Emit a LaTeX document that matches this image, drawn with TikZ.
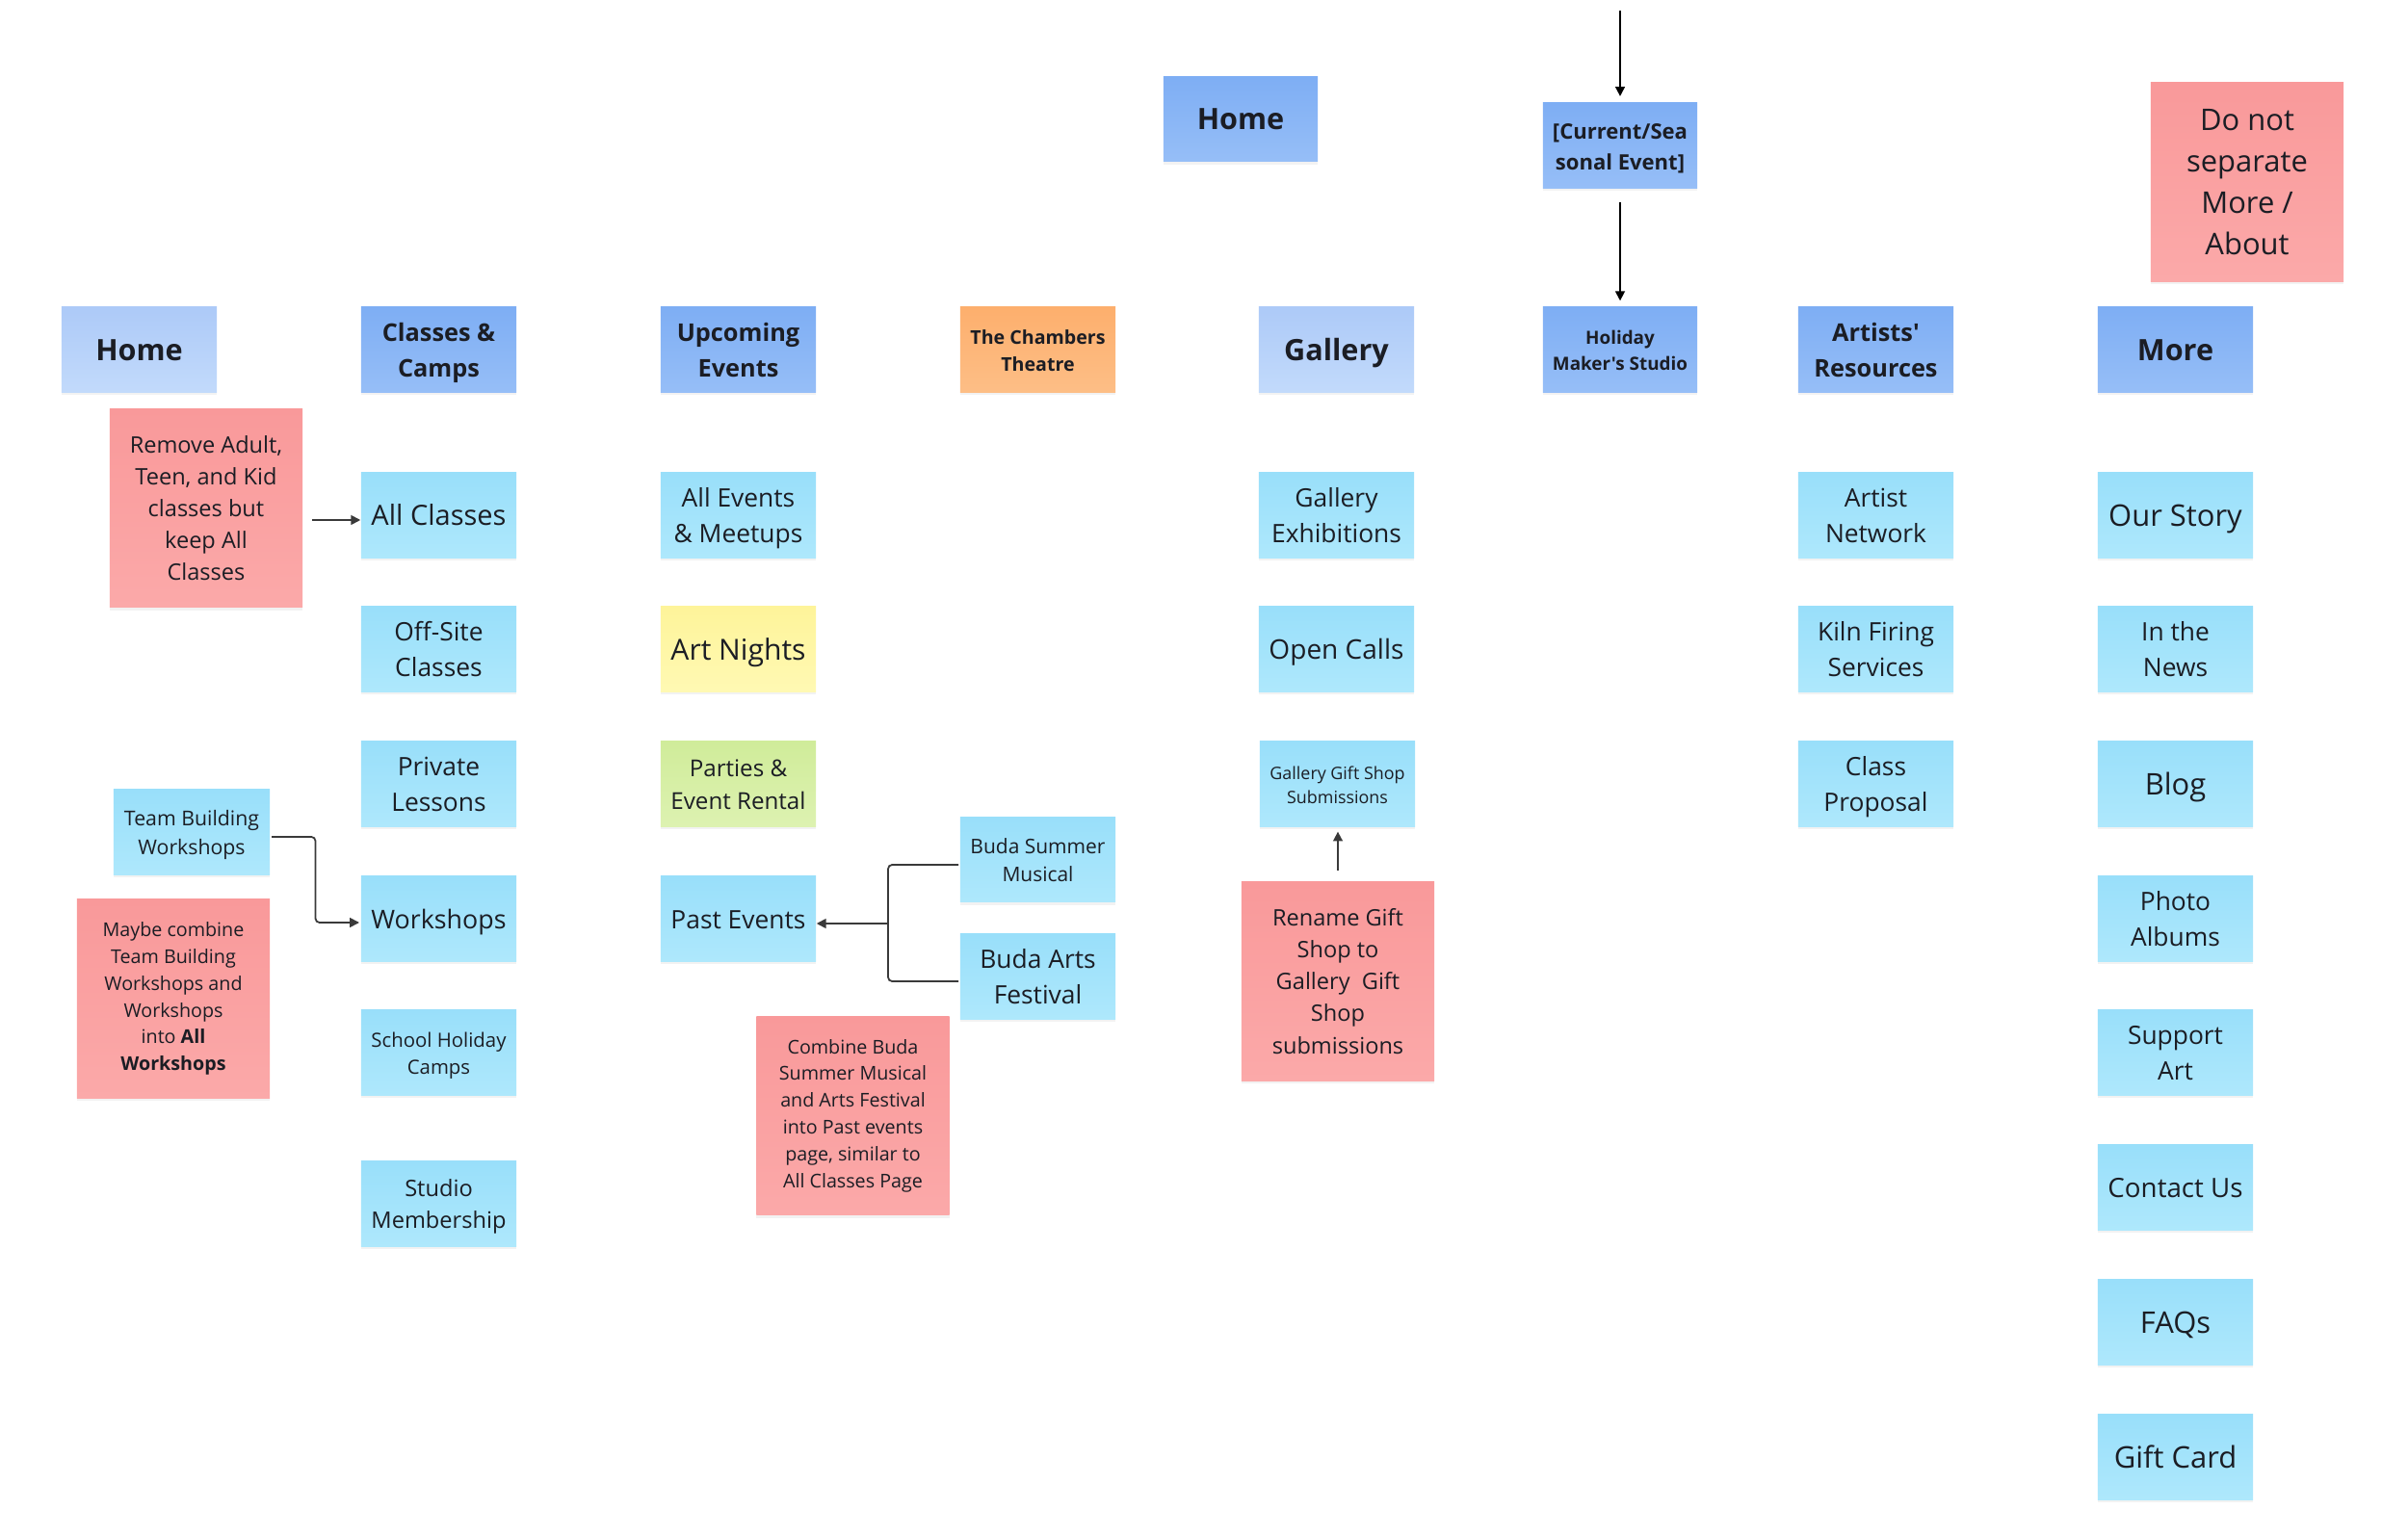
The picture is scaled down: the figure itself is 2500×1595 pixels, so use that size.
\documentclass[tikz,border=0pt]{standalone}
\usepackage{fontspec}
\setmainfont{Open Sans}[Ligatures=TeXOff]
\usepackage{graphicx}
\usetikzlibrary{shadows,arrows.meta,calc}

\definecolor{txt}{HTML}{1B1D24}
\definecolor{cyT}{HTML}{99DFFA}\definecolor{cyB}{HTML}{AEE8FC}
\definecolor{mbT}{HTML}{7EAEF4}\definecolor{mbB}{HTML}{96BEF7}
\definecolor{lbT}{HTML}{ADCAF8}\definecolor{lbB}{HTML}{C2DAFB}
\definecolor{orT}{HTML}{FDAF6D}\definecolor{orB}{HTML}{FDBE86}
\definecolor{rdT}{HTML}{F9999A}\definecolor{rdB}{HTML}{FBA9A9}
\definecolor{ylT}{HTML}{FEF49A}\definecolor{ylB}{HTML}{FFF9B3}
\definecolor{grT}{HTML}{D0EC9A}\definecolor{grB}{HTML}{DDF2B1}
\definecolor{lnc}{HTML}{3A3A3A}

\newsavebox\fitbox
\newsavebox\fitboxb
\newcommand\fit[1]{\sbox\fitbox{\begin{tabular}{@{}c@{}}#1\end{tabular}}%
  \ifdim\wd\fitbox>1.4cm\relax\sbox\fitboxb{\resizebox{1.4cm}{!}{\usebox\fitbox}}\else\sbox\fitboxb{\usebox\fitbox}\fi
  \raisebox{0pt}[\dimexpr\ht\fitboxb+1.6pt\relax][\dp\fitboxb]{\usebox\fitboxb}}
\newcommand\bigbold{\fontsize{8.7}{12}\selectfont\bfseries}
\newcommand\twobold{\fontsize{7.2}{10.4}\selectfont\bfseries}
\newcommand\bigreg{\fontsize{8.8}{12}\selectfont}
\newcommand\tworeg{\fontsize{7.5}{10.4}\selectfont}

\tikzset{
  card/.style={rectangle, inner sep=0pt, minimum width=1.61cm, minimum height=0.88cm,
    text=txt, align=center,
    drop shadow={shadow xshift=0pt, shadow yshift=-0.9pt, opacity=0.10}},
  cyanb/.style={card, top color=cyT, bottom color=cyB, font=\tworeg},
  medb/.style={card, top color=mbT, bottom color=mbB, font=\twobold},
  lightb/.style={card, top color=lbT, bottom color=lbB, font=\bigbold},
  orangeb/.style={card, top color=orT, bottom color=orB, font=\twobold},
  yellowb/.style={card, top color=ylT, bottom color=ylB, font=\bigreg},
  greenb/.style={card, top color=grT, bottom color=grB, font=\tworeg},
  note/.style={card, minimum width=2cm, minimum height=2.06cm, top color=rdT, bottom color=rdB},
  conn/.style={draw=lnc, line width=0.5pt, rounded corners=1.2pt},
  arr/.style={conn, -{Triangle[length=2.8pt,width=2.8pt]}},
  topar/.style={draw=black, line width=0.45pt, -{Triangle[length=2.8pt,width=2.8pt]}},
}

\begin{document}
\begin{tikzpicture}[x=0.01cm,y=-0.01cm]
\useasboundingbox[fill=white] (0,0) rectangle (2500,1595);

% top items
\node[medb, font=\bigbold, minimum width=1.60cm] (home2) at (1288,123.5) {\fit{Home}};
\node[medb, minimum width=1.60cm] (current) at (1682,151) {\fit{[Current/Sea\\sonal Event]}};
\node[note, font=\fontsize{8.8}{12.2}\selectfont] (dnsep) at (2333,189) {Do not\\separate\\More /\\About};

% headers
\node[lightb] (home1) at (144.5,363) {\fit{Home}};
\node[medb] (classes) at (455.5,363) {\fit{Classes \&\\Camps}};
\node[medb] (upcoming) at (766.5,363) {\fit{Upcoming\\Events}};
\node[orangeb] (chambers) at (1077.5,363) {\fit{The Chambers\\Theatre}};
\node[lightb] (gallery) at (1387.5,363) {\fit{Gallery}};
\node[medb, minimum width=1.60cm] (holiday) at (1682,363) {\fit{Holiday\\Maker's Studio}};
\node[medb] (artists) at (1947.5,363) {\fit{Artists'\\Resources}};
\node[medb, font=\bigbold] (more) at (2258.5,363) {\fit{More}};

% classes column
\node[cyanb, font=\bigreg] (allclasses) at (455.5,535) {\fit{All Classes}};
\node[cyanb] (offsite) at (455.5,674) {\fit{Off-Site\\Classes}};
\node[cyanb] (private) at (455.5,814) {\fit{Private\\Lessons}};
\node[cyanb, font=\bigreg] (workshops) at (455.5,954) {\fit{Workshops}};
\node[cyanb] (school) at (455.5,1093) {\fit{School Holiday\\Camps}};
\node[cyanb] (studio) at (455.5,1250) {\fit{Studio\\Membership}};

% left notes
\node[note, font=\fontsize{6.7}{9.4}\selectfont] (remove) at (214,527.5) {Remove Adult,\\Teen, and Kid\\classes but\\keep All\\Classes};
\node[cyanb, minimum width=1.62cm] (teamb) at (199,864) {\fit{Team Building\\Workshops}};
\node[note, font=\fontsize{5.6}{7.9}\selectfont] (maybe) at (180,1037) {Maybe combine\\Team Building\\Workshops and\\Workshops\\into \textbf{All}\\\textbf{Workshops}};

% upcoming column
\node[cyanb] (allevents) at (766.5,535) {\fit{All Events\\\& Meetups}};
\node[yellowb] (artnights) at (766.5,674) {\fit{Art Nights}};
\node[greenb] (parties) at (766.5,814) {\fit{Parties \&\\Event Rental}};
\node[cyanb, font=\bigreg] (pastev) at (766.5,954) {\fit{Past Events}};
\node[cyanb] (budasm) at (1077.5,892.5) {\fit{Buda Summer\\Musical}};
\node[cyanb] (budaaf) at (1077.5,1014) {\fit{Buda Arts\\Festival}};
\node[note, font=\fontsize{5.6}{7.9}\selectfont] (combine) at (885.5,1158.5) {Combine Buda\\Summer Musical\\and Arts Festival\\into Past events\\page, similar to\\All Classes Page};

% gallery column
\node[cyanb] (galex) at (1387.5,535) {\fit{Gallery\\Exhibitions}};
\node[cyanb, font=\bigreg] (opencalls) at (1387.5,674) {\fit{Open Calls}};
\node[cyanb] (giftshop) at (1388.5,814) {\fit{Gallery Gift Shop\\Submissions}};
\node[note, font=\fontsize{6.7}{9.4}\selectfont] (rename) at (1389,1019) {Rename Gift\\Shop to\\Gallery\ \ Gift\\Shop\\submissions};

% artists column
\node[cyanb] (artnet) at (1947.5,535) {\fit{Artist\\Network}};
\node[cyanb] (kiln) at (1947.5,674) {\fit{Kiln Firing\\Services}};
\node[cyanb] (classprop) at (1947.5,814) {\fit{Class\\Proposal}};

% more column
\node[cyanb, font=\bigreg] (ourstory) at (2258.5,535) {\fit{Our Story}};
\node[cyanb] (inthenews) at (2258.5,674) {\fit{In the\\News}};
\node[cyanb, font=\bigreg] (blog) at (2258.5,814) {\fit{Blog}};
\node[cyanb] (photo) at (2258.5,954) {\fit{Photo\\Albums}};
\node[cyanb] (support) at (2258.5,1093) {\fit{Support\\Art}};
\node[cyanb, font=\bigreg] (contact) at (2258.5,1233) {\fit{Contact Us}};
\node[cyanb, font=\bigreg] (faqs) at (2258.5,1373) {\fit{FAQs}};
\node[cyanb, font=\bigreg] (giftcard) at (2258.5,1513) {\fit{Gift Card}};

% connectors
\coordinate (topstart) at (1682,11);
\draw[topar, shorten >=1.8pt] (topstart) -- (current.north);
\draw[topar, shorten <=4.2pt, shorten >=1.7pt] (current.south) -- (holiday.north);

\coordinate (ra) at (324,540);
\draw[arr] (ra) -- (ra -| allclasses.west);

\coordinate (tb1) at (282,869);
\coordinate (tb2) at (373,958);
\draw[arr] (tb1) -| ($(tb1)!0.5!(tb2)$) |- (tb2);

\coordinate (bs) at (995,898);
\coordinate (ba) at (995,1019);
\coordinate (bj) at (922,959);
\draw[conn] (bs) -| (bj) |- (ba);
\draw[arr] (bj) -- (bj -| pastev.east);

\coordinate (rg) at (1389,904);
\draw[arr] (rg) -- ([yshift=-1.4pt]rg |- giftshop.south);
\end{tikzpicture}
\end{document}
